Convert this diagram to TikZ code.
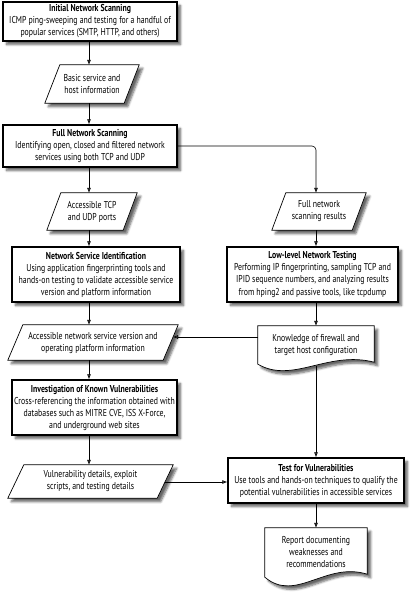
\documentclass[tikz,border=0pt]{standalone}
\usepackage{fontspec}
\setmainfont{PT Sans}[FakeStretch=0.78]
\usetikzlibrary{arrows.meta,calc,shadows.blur}
\pgfdeclarelayer{bg}
\pgfsetlayers{bg,main}
\begin{document}
\begin{tikzpicture}[x=1pt,y=-1pt,
  every node/.style={font=\fontsize{10}{12}\selectfont, inner sep=0pt, align=center},
  shd/.style={blur shadow={shadow xshift=3.5pt, shadow yshift=-3.5pt, shadow blur steps=6, shadow blur radius=2.2pt, shadow opacity=60}},
  stepbox/.style={draw, line width=1.5pt, fill=white, shd},
  slot/.style={},
  parabox/.style={draw, line width=0.7pt, fill=white, shd},
  docbox/.style={draw, line width=0.7pt, fill=white, shd},
  conn/.style={line width=0.6pt, -{Latex[length=5pt,width=4pt]}},
  plain/.style={line width=0.6pt}
]
\useasboundingbox (0,0) rectangle (413,592);
\coordinate (colL) at (89,0);
\coordinate (colR) at (316,0);

% process boxes
\node[stepbox, minimum width=174pt, minimum height=39pt] (b1) at (90,21.5)
  {\textbf{Initial Network Scanning}\\ICMP ping-sweeping and testing for a handful of\\popular services (SMTP, HTTP, and others)};
\node[stepbox, minimum width=174pt, minimum height=42pt] (b2) at (90,146)
  {\textbf{Full Network Scanning}\\Identifying open, closed and filtered network\\services using both TCP and UDP};
\node[stepbox, minimum width=168pt, minimum height=55pt] (b3) at (96,274.5)
  {\textbf{Network Service Identification}\\Using application fingerprinting tools and\\hands-on testing to validate accessible service\\version and platform information};
\node[stepbox, minimum width=171pt, minimum height=55pt] (b4) at (312.5,274.5)
  {\textbf{Low-level Network Testing}\\Performing IP fingerprinting, sampling TCP and\\IPID sequence numbers, and analyzing results\\from hping2 and passive tools, like tcpdump};
\node[stepbox, minimum width=165pt, minimum height=55pt] (b5) at (94.5,407.5)
  {\textbf{Investigation of Known Vulnerabilities}\\Cross-referencing the information obtained with\\databases such as MITRE CVE, ISS X-Force,\\and underground web sites};
\node[stepbox, minimum width=176pt, minimum height=45pt] (b6) at (316,480.5)
  {\textbf{Test for Vulnerabilities}\\Use tools and hands-on techniques to qualify the\\potential vulnerabilities in accessible services};

% data (parallelograms)
\node[slot, minimum width=94pt, minimum height=38pt] (p1) at (92,84) {Basic service and\\host information};
\node[slot, minimum width=90pt, minimum height=37pt] (p2) at (92,211.5) {Accessible TCP\\and UDP ports};
\node[slot, minimum width=94pt, minimum height=37pt] (p3) at (319,211.5) {Full network\\scanning results};
\node[slot, minimum width=170pt, minimum height=35pt] (p4) at (93,342.5) {Accessible network service version and\\operating platform information};
\node[slot, minimum width=165pt, minimum height=33pt] (p5) at (90.5,481.5) {Vulnerability details, exploit\\scripts, and testing details};

% documents
\node[slot, minimum width=116pt, minimum height=38pt] (d1) at (316,345) {Knowledge of firewall and\\target host configuration};
\node[slot, minimum width=102pt, minimum height=49pt] (d2) at (316,552.5) {Report documenting\\weaknesses and\\recommendations};

\begin{pgfonlayer}{bg}
\foreach \p/\s in {p1/15,p2/14,p3/14,p4/15,p5/16}{
  \draw[parabox] (\p.south west) -- ($(\p.north west)+(\s,0)$) -- (\p.north east)
    -- ($(\p.south east)+(-\s,0)$) -- cycle;
}
\draw[docbox] (d1.north west) -- (d1.south west)
  .. controls ($(d1.south west)+(35,20)$) and ($(d1.south west)+(70,-14)$) .. ($(d1.south east)+(0,-2)$)
  -- (d1.north east) -- cycle;
\draw[docbox] (d2.north west) -- (d2.south west)
  .. controls ($(d2.south west)+(31,26)$) and ($(d2.south west)+(61,-16)$) .. ($(d2.south east)+(0,-3)$)
  -- (d2.north east) -- cycle;
\end{pgfonlayer}

\coordinate (p4r) at (173,337);
\coordinate (p5r) at (165,482);
\coordinate (d1b) at (316,366);

% connectors
\draw[conn] (b1.south -| colL) -- (p1.north -| colL);
\draw[conn] (p1.south -| colL) -- (b2.north -| colL);
\draw[conn] (b2.south -| colL) -- (p2.north -| colL);
\draw[conn, rounded corners=4pt] (b2.east) -| (p3.north -| colR);
\draw[conn] (p2.south -| colL) -- (b3.north -| colL);
\draw[conn] (p3.south -| colR) -- (b4.north -| colR);
\draw[conn] (b3.south -| colL) -- (p4.north -| colL);
\draw[conn] (b4.south -| colR) -- (d1.north -| colR);
\draw[conn] (d1.west |- p4r) -- (p4r);
\draw[conn] (p4.south -| colL) -- (b5.north -| colL);
\draw[conn] (b5.south -| colL) -- (p5.north -| colL);
\draw[conn] (p5r) -- (p5r -| b6.west);
\draw[conn] (d1b) -- (b6.north -| colR);
\draw[conn] (b6.south -| colR) -- (d2.north -| colR);
\end{tikzpicture}
\end{document}
